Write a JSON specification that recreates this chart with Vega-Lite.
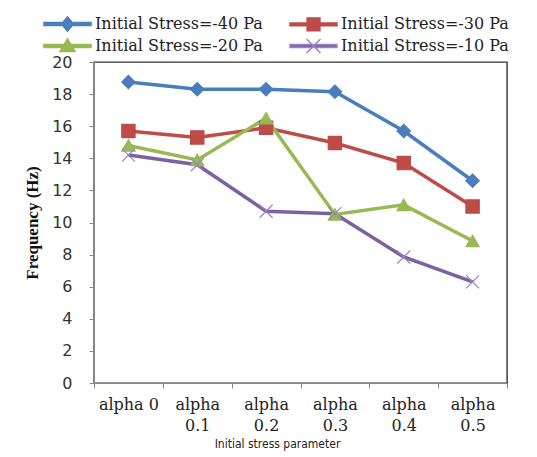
{
  "$schema": "https://vega.github.io/schema/vega-lite/v6.json",
  "autosize": {"type": "none"},
  "padding": {"left": 94, "top": 62, "right": 30, "bottom": 74},
  "width": 413,
  "height": 321,
  "background": "white",
  "config": {
    "view": {"stroke": "#333", "strokeWidth": 1.4},
    "axis": {"grid": false}
  },
  "data": {
    "values": [
      {"alpha": "alpha 0", "series": "Initial Stress=-40 Pa", "freq": 18.75},
      {"alpha": "alpha 0.1", "series": "Initial Stress=-40 Pa", "freq": 18.3},
      {"alpha": "alpha 0.2", "series": "Initial Stress=-40 Pa", "freq": 18.3},
      {"alpha": "alpha 0.3", "series": "Initial Stress=-40 Pa", "freq": 18.15},
      {"alpha": "alpha 0.4", "series": "Initial Stress=-40 Pa", "freq": 15.7},
      {"alpha": "alpha 0.5", "series": "Initial Stress=-40 Pa", "freq": 12.6},
      {"alpha": "alpha 0", "series": "Initial Stress=-30 Pa", "freq": 15.7},
      {"alpha": "alpha 0.1", "series": "Initial Stress=-30 Pa", "freq": 15.3},
      {"alpha": "alpha 0.2", "series": "Initial Stress=-30 Pa", "freq": 15.9},
      {"alpha": "alpha 0.3", "series": "Initial Stress=-30 Pa", "freq": 14.95},
      {"alpha": "alpha 0.4", "series": "Initial Stress=-30 Pa", "freq": 13.7},
      {"alpha": "alpha 0.5", "series": "Initial Stress=-30 Pa", "freq": 11.0},
      {"alpha": "alpha 0", "series": "Initial Stress=-20 Pa", "freq": 14.8},
      {"alpha": "alpha 0.1", "series": "Initial Stress=-20 Pa", "freq": 13.9},
      {"alpha": "alpha 0.2", "series": "Initial Stress=-20 Pa", "freq": 16.5},
      {"alpha": "alpha 0.3", "series": "Initial Stress=-20 Pa", "freq": 10.5},
      {"alpha": "alpha 0.4", "series": "Initial Stress=-20 Pa", "freq": 11.1},
      {"alpha": "alpha 0.5", "series": "Initial Stress=-20 Pa", "freq": 8.85},
      {"alpha": "alpha 0", "series": "Initial Stress=-10 Pa", "freq": 14.2},
      {"alpha": "alpha 0.1", "series": "Initial Stress=-10 Pa", "freq": 13.6},
      {"alpha": "alpha 0.2", "series": "Initial Stress=-10 Pa", "freq": 10.7},
      {"alpha": "alpha 0.3", "series": "Initial Stress=-10 Pa", "freq": 10.55},
      {"alpha": "alpha 0.4", "series": "Initial Stress=-10 Pa", "freq": 7.85},
      {"alpha": "alpha 0.5", "series": "Initial Stress=-10 Pa", "freq": 6.3}
    ]
  },
  "encoding": {
    "x": {
      "field": "alpha", "type": "nominal", "sort": null,
      "scale": {"paddingInner": 0, "paddingOuter": 0},
      "axis": {
        "title": "Initial stress parameter",
        "titleFont": "Liberation Sans Narrow, DejaVu Sans Condensed, sans-serif",
        "titleFontSize": 12,
        "titleFontWeight": "normal",
        "titleColor": "#222",
        "titleX": 183,
        "titleY": 60,
        "titleBaseline": "middle",
        "labelAngle": 0,
        "labelFont": "DejaVu Serif",
        "labelFontSize": 16,
        "labelColor": "#222",
        "labelPadding": 8,
        "labelLineHeight": 21,
        "labelExpr": "datum.value == null ? '' : datum.value == 'alpha 0' ? datum.value : split(datum.value, ' ')",
        "tickBand": "extent",
        "tickSize": 5,
        "tickColor": "#888",
        "domainColor": "#888",
        "labelBaseline": "top"
      }
    },
    "y": {
      "field": "freq", "type": "quantitative",
      "scale": {"domain": [0, 20], "nice": false},
      "axis": {
        "title": "Frequency (Hz)",
        "titleFont": "Liberation Serif",
        "titleFontSize": 17,
        "titleFontWeight": "bold",
        "titleColor": "#111",
        "titlePadding": 10,
        "values": [0, 2, 4, 6, 8, 10, 12, 14, 16, 18, 20],
        "labelFont": "DejaVu Sans",
        "labelFontSize": 16,
        "labelColor": "#333",
        "labelPadding": 17,
        "tickSize": 5,
        "tickColor": "#888",
        "domainColor": "#888"
      }
    }
  },
  "resolve": {"scale": {"color": "independent", "shape": "independent", "stroke": "independent", "size": "independent"}},
  "layer": [
    {
      "mark": {"type": "line", "strokeWidth": 3.5},
      "encoding": {
        "color": {
          "field": "series", "type": "nominal",
          "scale": {
            "domain": ["Initial Stress=-40 Pa", "Initial Stress=-30 Pa", "Initial Stress=-20 Pa", "Initial Stress=-10 Pa"],
            "range": ["#4A7EBB", "#BE4B48", "#98B954", "#7D60A0"]
          },
          "legend": null
        }
      }
    },
    {
      "mark": {"type": "point", "filled": true, "strokeWidth": 1.2, "opacity": 1},
      "encoding": {
        "color": {
          "field": "series", "type": "nominal",
          "scale": {
            "domain": ["Initial Stress=-40 Pa", "Initial Stress=-30 Pa", "Initial Stress=-20 Pa", "Initial Stress=-10 Pa"],
            "range": ["#4A7EBB", "#BE4B48", "#98B954", "#7D60A0"]
          },
          "legend": null
        },
        "stroke": {
          "field": "series", "type": "nominal",
          "scale": {
            "domain": ["Initial Stress=-40 Pa", "Initial Stress=-30 Pa", "Initial Stress=-20 Pa", "Initial Stress=-10 Pa"],
            "range": ["#4A7EBB", "#BE4B48", "#98B954", "#9A84C4"]
          },
          "legend": null
        },
        "shape": {
          "field": "series", "type": "nominal",
          "scale": {
            "domain": ["Initial Stress=-40 Pa", "Initial Stress=-30 Pa", "Initial Stress=-20 Pa", "Initial Stress=-10 Pa"],
            "range": ["diamond", "square", "triangle-up", "M-1,-1L1,1M-1,1L1,-1"]
          },
          "legend": null
        },
        "size": {
          "field": "series", "type": "nominal",
          "scale": {
            "domain": ["Initial Stress=-40 Pa", "Initial Stress=-30 Pa", "Initial Stress=-20 Pa", "Initial Stress=-10 Pa"],
            "range": [180, 169, 200, 196]
          },
          "legend": null
        }
      }
    },
    {
      "transform": [{"filter": "datum.freq < 0"}],
      "mark": {"type": "point", "filled": true, "strokeWidth": 1, "opacity": 1},
      "encoding": {
        "color": {
          "field": "series", "type": "nominal",
          "scale": {
            "domain": ["Initial Stress=-40 Pa", "Initial Stress=-30 Pa", "Initial Stress=-20 Pa", "Initial Stress=-10 Pa"],
            "range": ["#4A7EBB", "#BE4B48", "#98B954", "#7D60A0"]
          },
          "legend": {
            "orient": "none",
            "legendX": -51,
            "legendY": -47,
            "columns": 2,
            "direction": "horizontal",
            "title": null,
            "symbolSize": 256,
            "labelFont": "DejaVu Serif",
            "labelFontSize": 16,
            "labelColor": "#222",
            "labelOffset": 34,
            "labelLimit": 300,
            "columnPadding": 24,
            "rowPadding": 1
          }
        },
        "stroke": {
          "field": "series", "type": "nominal",
          "scale": {
            "domain": ["Initial Stress=-40 Pa", "Initial Stress=-30 Pa", "Initial Stress=-20 Pa", "Initial Stress=-10 Pa"],
            "range": ["#4A7EBB", "#BE4B48", "#98B954", "#9A84C4"]
          }
        },
        "shape": {
          "field": "series", "type": "nominal",
          "scale": {
            "domain": ["Initial Stress=-40 Pa", "Initial Stress=-30 Pa", "Initial Stress=-20 Pa", "Initial Stress=-10 Pa"],
            "range": [
              "M-1,-0.175H4.875V0.175H-1ZM1.94,-0.875L2.69,0L1.94,0.875L1.19,0Z",
              "M-1,-0.175H4.875V0.175H-1ZM1.14,-0.8H2.74V0.8H1.14Z",
              "M-1,-0.175H4.875V0.175H-1ZM1.94,-0.9L2.88,0.7H1Z",
              "M-1,-0.175H4.875V0.175H-1ZM1.065,-0.875L2.815,0.875M1.065,0.875L2.815,-0.875"
            ]
          }
        }
      }
    }
  ]
}
